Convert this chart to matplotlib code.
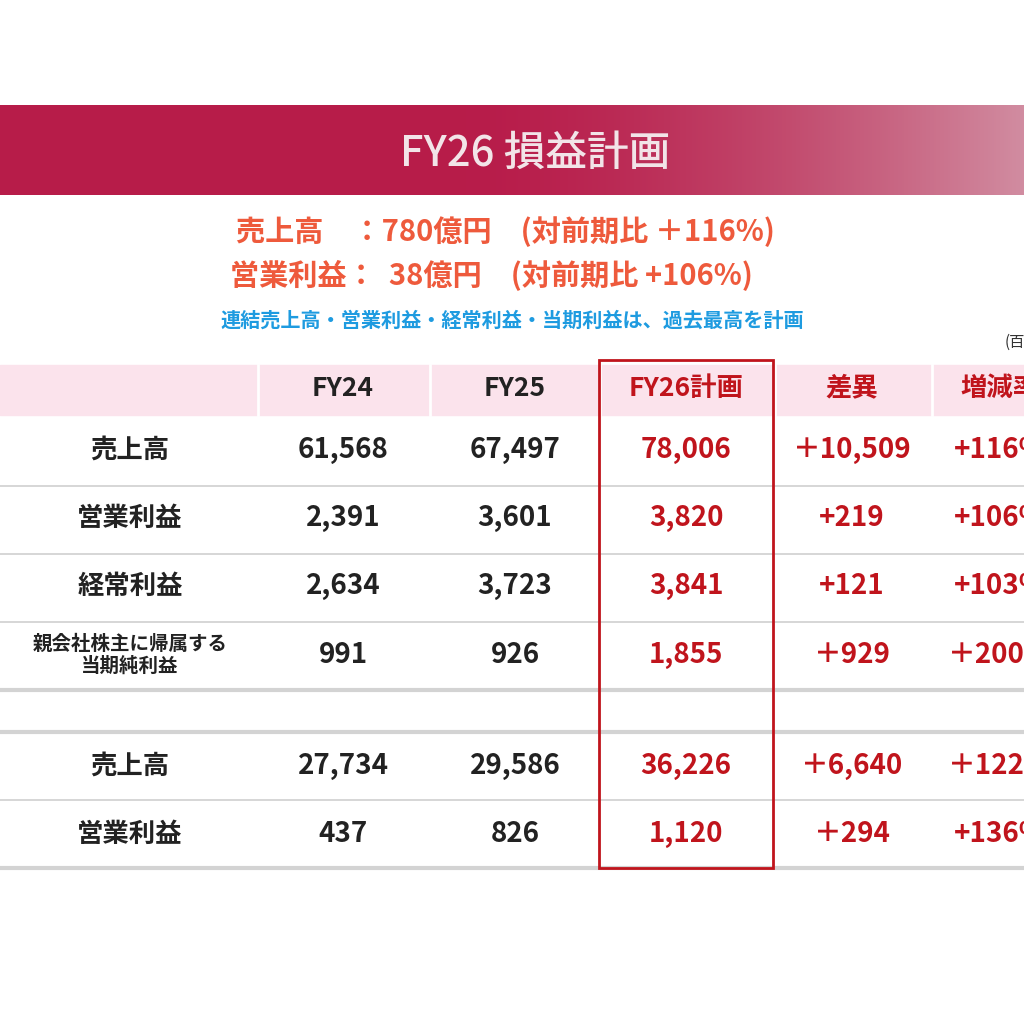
import matplotlib
matplotlib.use("Agg")
import matplotlib.pyplot as plt
import numpy as np
from matplotlib.patches import Rectangle

plt.rcParams['font.family'] = ['Noto Sans CJK JP', 'DejaVu Sans']

title = "FY26 損益計画"
sub1 = "売上高　：780億円　(対前期比 ＋116%)"
sub2 = "営業利益：  38億円　(対前期比 +106%)"
sub3 = "連結売上高・営業利益・経常利益・当期利益は、過去最高を計画"
headers = ["FY24", "FY25", "FY26計画", "差異", "増減率"]
row_labels = ["売上高", "営業利益", "経常利益", "親会社株主に帰属する\n当期純利益", "売上高", "営業利益"]
fy24 = ["61,568", "2,391", "2,634", "991", "27,734", "437"]
fy25 = ["67,497", "3,601", "3,723", "926", "29,586", "826"]
fy26 = ["78,006", "3,820", "3,841", "1,855", "36,226", "1,120"]
diff = ["＋10,509", "+219", "+121", "＋929", "＋6,640", "＋294"]
rate = ["+116%", "+106%", "+103%", "＋200%", "＋122%", "+136%"]

fig = plt.figure(figsize=(10.24, 10.24), dpi=100)
ax = fig.add_axes([0, 0, 1, 1])
ax.set_xlim(0, 1024); ax.set_ylim(1024, 0); ax.axis('off')

# banner gradient
c1 = np.array([0.72, 0.11, 0.29]); c2 = np.array([0.82, 0.55, 0.63])
xs = np.linspace(0, 1, 512)
t = np.clip((xs - 0.45) / 0.55, 0, 1) ** 1.6
grad = c1[None, :] * (1 - t[:, None]) + c2[None, :] * t[:, None]
ax.imshow(grad[None, :, :], extent=[0, 1024, 195, 105], aspect='auto', zorder=0)
ax.text(535, 153, title, color='#F2E4E8', fontsize=30, ha='center', va='center', fontweight='medium')

orange = '#EE5A3C'
ax.text(236, 232, sub1, color=orange, fontsize=21, ha='left', va='center', fontweight='bold')
ax.text(230, 275, sub2, color=orange, fontsize=21, ha='left', va='center', fontweight='bold')
ax.text(512, 320, sub3, color='#1E9BE0', fontsize=14.5, ha='center', va='center', fontweight='bold')
ax.text(1005, 342, "(百万円)", color='#333333', fontsize=11, ha='left', va='center')

# header band
ax.add_patch(Rectangle((0, 365), 1024, 50, color='#FBE3EC', zorder=1))
for x in [258, 430, 600, 775, 932]:
    ax.plot([x, x], [365, 415], color='white', lw=2, zorder=2)

colx = [343, 515, 686, 852, 1000]
red = '#C0141C'
for i, h in enumerate(headers):
    ax.text(colx[i], 388, h, fontsize=19, ha='center', va='center', fontweight='bold',
            color='#222222' if i < 2 else red)

rowy = [450, 518, 586, 655, 766, 834]
for j in range(6):
    fs = 14 if j == 3 else 19
    ax.text(130, rowy[j], row_labels[j], fontsize=fs, ha='center', va='center',
            fontweight='bold', color='#222222', linespacing=1.15)
    ax.text(colx[0], rowy[j], fy24[j], fontsize=20, ha='center', va='center', color='#222222', fontweight='bold')
    ax.text(colx[1], rowy[j], fy25[j], fontsize=20, ha='center', va='center', color='#222222', fontweight='bold')
    ax.text(colx[2], rowy[j], fy26[j], fontsize=20, ha='center', va='center', color=red, fontweight='bold')
    ax.text(colx[3], rowy[j], diff[j], fontsize=20, ha='center', va='center', color=red, fontweight='bold')
    ax.text(colx[4], rowy[j], rate[j], fontsize=20, ha='center', va='center', color=red, fontweight='bold')

for y in [486, 554, 622, 800]:
    ax.plot([0, 1024], [y, y], color='#D0D0D0', lw=1.2, zorder=2)
for y in [690, 732, 868]:
    ax.plot([0, 1024], [y, y], color='#D3D3D3', lw=3, zorder=2)

ax.add_patch(Rectangle((599, 360), 174, 508, fill=False, ec=red, lw=2, zorder=5))

fig.savefig("out.png", dpi=100, facecolor='white')
